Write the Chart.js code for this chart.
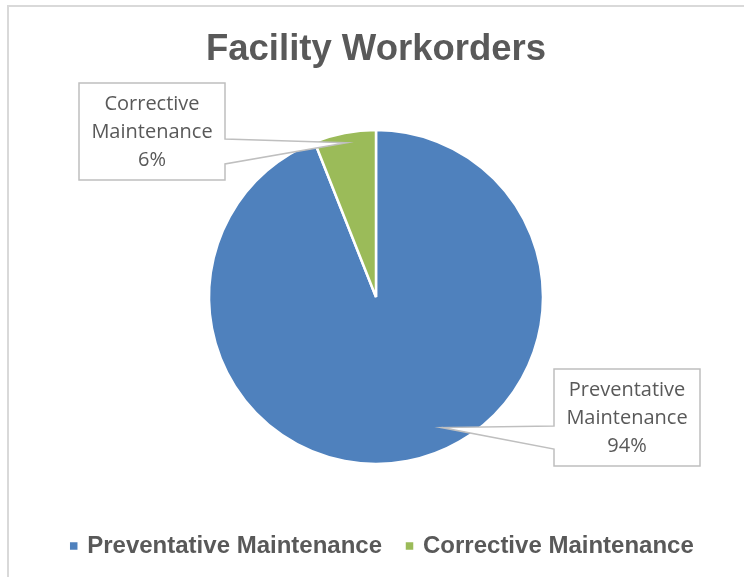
<!DOCTYPE html>
<html>
<head>
<meta charset="utf-8">
<script src="https://cdn.jsdelivr.net/npm/chart.js@4"></script>
<style>
    body { margin: 0; background: #fff; }
    #wrap { position: relative; width: 744px; height: 577px; overflow: hidden; }
    #frame { position: absolute; left: 7px; top: 5px; width: 735px; height: 700px; border: 2px solid #d9d9d9; }
    #chart { position: absolute; left: 0; top: 0; }
</style>
</head>
<body>
<div id="wrap">
    <div id="frame"></div>
    <canvas id="chart" width="744" height="577"></canvas>
</div>
<script>
const categories = ['Preventative Maintenance', 'Corrective Maintenance'];
const values = [94, 6];
const colors = ['#4f81bd', '#9bbb59'];

// callout boxes, relative to the pie centre
const callouts = [
    { left: 178, top: 72, w: 146, h: 97, side: 'left', a1: 57, a2: 80, frac: 0.453, dist: 0.875 },
    { left: -297, top: -214, w: 146, h: 97, side: 'right', a1: 56, a2: 81, frac: 0.5, dist: 0.94 }
];

const calloutPlugin = {
    id: 'callouts',
    afterLayout(chart) {
        // legend row sits a bit right of the pie centre
        chart.legend.left += 7;
        chart.legend.right += 7;
    },
    afterDatasetsDraw(chart) {
        const ctx = chart.ctx;
        const arcs = chart.getDatasetMeta(0).data;
        const total = values.reduce((a, b) => a + b, 0);
        arcs.forEach((arc, i) => {
            const c = callouts[i];
            const p = arc.getProps(['x', 'y', 'startAngle', 'endAngle', 'outerRadius'], true);
            const ang = p.startAngle + (p.endAngle - p.startAngle) * c.frac;
            const tx = p.x + Math.cos(ang) * p.outerRadius * c.dist;
            const ty = p.y + Math.sin(ang) * p.outerRadius * c.dist;
            const x0 = p.x + c.left, y0 = p.y + c.top;
            const x1 = x0 + c.w, y1 = y0 + c.h;

            ctx.save();
            ctx.beginPath();
            ctx.moveTo(x0, y0);
            ctx.lineTo(x1, y0);
            if (c.side === 'right') {
                ctx.lineTo(x1, y0 + c.a1);
                ctx.lineTo(tx, ty);
                ctx.lineTo(x1, y0 + c.a2);
            }
            ctx.lineTo(x1, y1);
            ctx.lineTo(x0, y1);
            if (c.side === 'left') {
                ctx.lineTo(x0, y0 + c.a2);
                ctx.lineTo(tx, ty);
                ctx.lineTo(x0, y0 + c.a1);
            }
            ctx.closePath();
            ctx.fillStyle = '#ffffff';
            ctx.fill();
            ctx.strokeStyle = '#bfbfbf';
            ctx.lineWidth = 1.5;
            ctx.stroke();

            const lines = categories[i].split(' ');
            lines.push(Math.round(values[i] / total * 100) + '%');
            ctx.fillStyle = '#595959';
            ctx.font = '20px "Open Sans"';
            ctx.textAlign = 'center';
            ctx.textBaseline = 'middle';
            lines.forEach((t, k) => {
                ctx.fillText(t, x0 + c.w / 2, y0 + 21.5 + k * 28);
            });
            ctx.restore();
        });
    }
};

new Chart(document.getElementById('chart'), {
    type: 'pie',
    data: {
        labels: categories,
        datasets: [{
            data: values,
            backgroundColor: colors,
            borderColor: '#ffffff',
            borderWidth: 2.5,
            radius: 167
        }]
    },
    options: {
        responsive: false,
        animation: false,
        layout: { padding: { left: 8, right: 0, top: 0, bottom: 9 } },
        plugins: {
            title: {
                display: true,
                text: 'Facility Workorders',
                color: '#595959',
                font: { family: 'Liberation Sans', size: 36.5, weight: 'bold' },
                padding: { top: 28, bottom: 14.2 }
            },
            legend: {
                position: 'bottom',
                labels: {
                    color: '#595959',
                    font: { family: 'Liberation Sans', size: 24, weight: 'bold' },
                    usePointStyle: true,
                    pointStyle: 'rect',
                    boxWidth: 3,
                    boxHeight: 10,
                    padding: 26
                }
            },
            tooltip: { enabled: false }
        }
    },
    plugins: [calloutPlugin]
});
</script>
</body>
</html>
